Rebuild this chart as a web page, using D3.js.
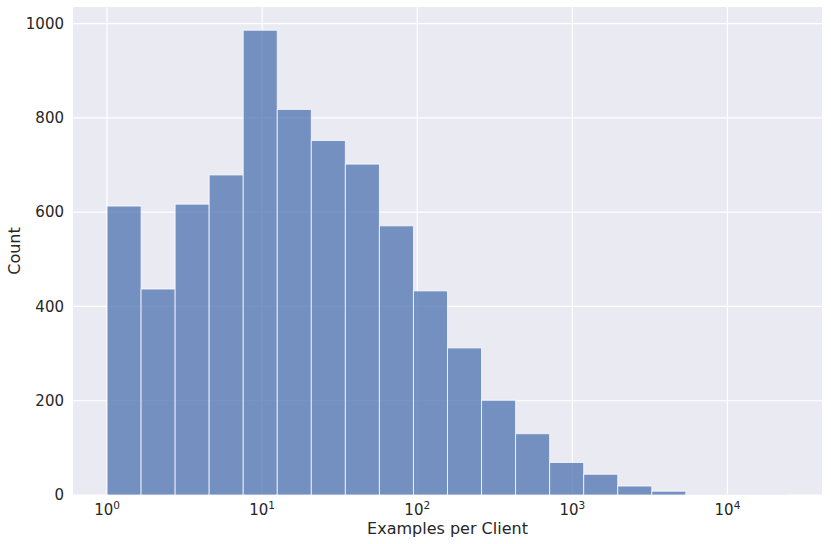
<!DOCTYPE html>
<html><head><meta charset="utf-8">
<script src="https://cdn.jsdelivr.net/npm/d3@7"></script>
<style>body{margin:0;background:#fff}text{font-family:"DejaVu Sans",sans-serif;fill:#262626}</style>
</head><body><svg id="c" width="831" height="544"></svg>
<script>
const logMin = 0, logMax = 4.39, nBins = 20;
const counts = [613, 437, 617, 679, 986, 818, 752, 702, 571, 433, 312, 201, 130, 69, 44, 19, 8, 1, 1, 1];
const yTicks = [0, 200, 400, 600, 800, 1000];
const xTicks = [0, 1, 2, 3, 4];
const bins = counts.map((c, i) => ({x0: Math.pow(10, logMin + (logMax - logMin) * i / nBins), x1: Math.pow(10, logMin + (logMax - logMin) * (i + 1) / nBins), c}));

const svg = d3.select("#c");
const L = 73, R = 822, T = 7, B = 495;
const span = logMax - logMin;
const x = d3.scaleLog().domain([Math.pow(10, logMin - span * 0.05), Math.pow(10, logMax + span * 0.05)]).range([L, R]);
const y = d3.scaleLinear().domain([0, d3.max(counts) * 1.05]).range([B, T]);

svg.append("rect").attr("x", L).attr("y", T).attr("width", R - L).attr("height", B - T).attr("fill", "#EAEAF2");
const g = svg.append("g");
g.selectAll(".gy").data(yTicks).join("line").attr("x1", L).attr("x2", R).attr("y1", d => y(d)).attr("y2", d => y(d)).attr("stroke", "#fff").attr("stroke-width", 1.2);
g.selectAll(".gx").data(xTicks).join("line").attr("y1", T).attr("y2", B).attr("x1", d => x(Math.pow(10, d))).attr("x2", d => x(Math.pow(10, d))).attr("stroke", "#fff").attr("stroke-width", 1.2);

svg.append("g").selectAll("rect").data(bins).join("rect")
  .attr("x", d => x(d.x0)).attr("width", d => x(d.x1) - x(d.x0))
  .attr("y", d => y(d.c)).attr("height", d => B - y(d.c))
  .attr("fill", "#4C72B0").attr("fill-opacity", 0.75)
  .attr("stroke", "#fff").attr("stroke-opacity", 0.75).attr("stroke-width", 1);

svg.append("g").selectAll("text").data(yTicks).join("text")
  .attr("x", L - 9).attr("y", d => y(d)).attr("dy", "0.35em").attr("text-anchor", "end").attr("font-size", 15).text(d => d);

const xt = svg.append("g").selectAll("text").data(xTicks).join("text")
  .attr("x", d => x(Math.pow(10, d))).attr("y", 515).attr("text-anchor", "middle").attr("font-size", 15);
xt.append("tspan").text("10");
xt.append("tspan").attr("dy", -6).attr("font-size", 10.5).text(d => d);

svg.append("text").attr("x", (L + R) / 2).attr("y", 534).attr("text-anchor", "middle").attr("font-size", 16).text("Examples per Client");
svg.append("text").attr("transform", `translate(20,${(T + B) / 2}) rotate(-90)`).attr("text-anchor", "middle").attr("font-size", 16).text("Count");
</script></body></html>
